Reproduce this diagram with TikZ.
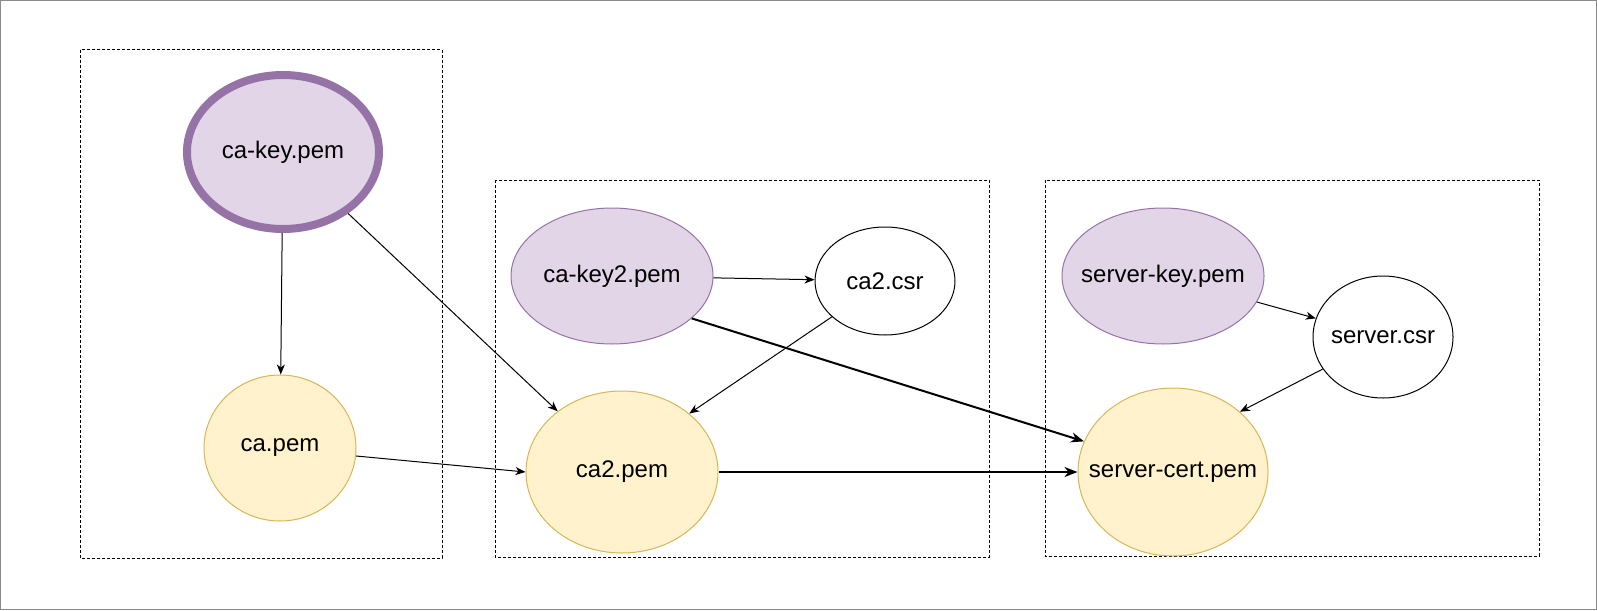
\documentclass[tikz,border=0pt]{standalone}
\usepackage{fontspec}
\setmainfont{Liberation Sans}
\usetikzlibrary{shapes.geometric,arrows.meta}
\definecolor{purpfill}{HTML}{E1D5E7}
\definecolor{purpline}{HTML}{9673A6}
\definecolor{yelfill}{HTML}{FFF2CC}
\definecolor{yelline}{HTML}{D6B656}
\definecolor{framegray}{HTML}{8A8A8A}
\newcommand\zl[1]{\makebox[0pt]{#1}}
\tikzset{
  ell/.style={ellipse, inner sep=0pt, font=\fontsize{24}{28}\selectfont, line width=1pt},
  keyell/.style={ell, draw=purpline, fill=purpfill},
  certell/.style={ell, draw=yelline, fill=yelfill},
  csrell/.style={ell, draw=black, fill=white},
  group/.style={draw=black, line width=1pt, dash pattern=on 3pt off 2pt},
  thinarr/.style={draw=black, line width=1pt, -{Stealth[length=10pt,width=8pt,inset=3pt]}},
  thickarr/.style={draw=black, line width=2pt, -{Stealth[length=13pt,width=10pt,inset=4pt]}},
}
\begin{document}
\begin{tikzpicture}[x=1pt,y=-1pt]
\useasboundingbox (0,0) rectangle (1597,610);
\draw[framegray, line width=1.2pt] (0.6,0.6) rectangle (1596.4,609.4);
% groups
\draw[group] (80,50) rectangle (442,558);
\draw[group] (495,180) rectangle (989,557);
\draw[group] (1045,180) rectangle (1539,556);
% nodes
\node[keyell, line width=8pt, minimum width=192pt, minimum height=154pt] (cakey) at (283,152) {\zl{ca-key.pem}};
\node[certell, minimum width=152pt, minimum height=146pt] (capem) at (280,448) {\zl{ca.pem}};
\node[keyell, minimum width=202pt, minimum height=136pt] (cakey2) at (612,276) {\zl{ca-key2.pem}};
\node[csrell, minimum width=140pt, minimum height=108pt] (ca2csr) at (885,281) {\zl{ca2.csr}};
\node[certell, minimum width=192pt, minimum height=162pt] (ca2pem) at (622,472) {\zl{ca2.pem}};
\node[keyell, minimum width=202pt, minimum height=136pt] (serverkey) at (1163,276) {\zl{server-key.pem}};
\node[csrell, minimum width=140pt, minimum height=122pt] (servercsr) at (1383,337) {\zl{server.csr}};
\node[certell, minimum width=190pt, minimum height=168pt] (servercert) at (1173,472) {\zl{server-cert.pem}};
% connectors
\draw[thinarr] (cakey) -- (capem);
\draw[thinarr] (cakey) -- (ca2pem);
\draw[thinarr] (capem.-6) -- (ca2pem.180);
\draw[thinarr] (cakey2) -- (ca2csr);
\draw[thinarr] (ca2csr.214) -- (ca2pem.41);
\draw[thickarr] (cakey2.-28) -- (servercert.161);
\draw[thickarr] (ca2pem.0) -- (servercert.180);
\draw[thinarr] (serverkey) -- (servercsr);
\draw[thinarr] (servercsr.208) -- (servercert.42);
\end{tikzpicture}
\end{document}
